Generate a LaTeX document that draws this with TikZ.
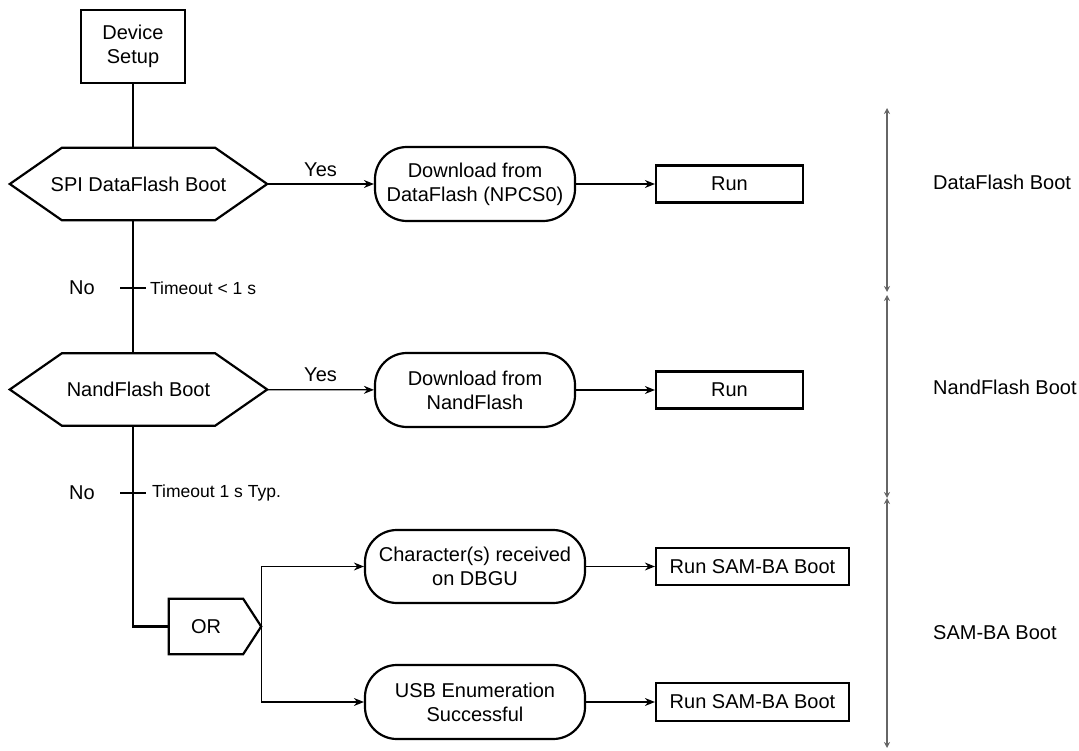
\documentclass[tikz,border=0pt]{standalone}
\usepackage{fontspec}
\setmainfont{Liberation Sans}
\usetikzlibrary{arrows.meta}

\begin{document}
\begin{tikzpicture}
  [x=1pt,y=-1pt,
   every node/.style={font=\fontsize{20}{24}\selectfont,align=center,inner sep=0pt},
   box/.style={draw,line width=2.2pt,minimum width=#1,minimum height=37pt},
   pill/.style={draw,line width=2.2pt,rounded corners=32pt,minimum width=#1,minimum height=74pt},
   hexa/.style={minimum width=257pt,minimum height=72pt},
   trunk/.style={line width=2.2pt},
   link/.style={line width=1.3pt,-{Stealth[length=10pt,width=8pt]}},
   span/.style={black!60,line width=1.4pt,{Stealth[length=6pt,width=6pt]}-{Stealth[length=6pt,width=6pt]}},
   small/.style={font=\fontsize{17.5}{20}\selectfont}]
  \useasboundingbox (0,0) rectangle (1079,751);

  % left column
  \node[box=104pt,minimum height=73pt] (dev) at (133,46.5) {Device\\Setup};
  \node[hexa] (spi) at (138.5,184) {SPI DataFlash Boot};
  \node[hexa] (nand) at (138.5,389.5) {NandFlash Boot};
  \node[minimum width=74pt,minimum height=55pt] (or) at (206,626.5) {OR};

  % middle and right
  \node[pill=200pt] (dl1) at (475,184) {Download from\\DataFlash (NPCS0)};
  \node[box=147pt] (run1) at (729.5,184) {Run};
  \node[pill=200pt] (dl2) at (475,390) {Download from\\NandFlash};
  \node[box=147pt] (run2) at (729.5,390) {Run};
  \node[pill=220pt,minimum height=73pt] (chr) at (475,566.5) {Character(s) received\\on DBGU};
  \node[pill=220pt] (usb) at (475,702) {USB Enumeration\\Successful};
  \node[box=193pt] (sam1) at (752.5,566.5) {Run SAM-BA Boot};
  \node[box=193pt,minimum height=38pt] (sam2) at (752.5,702) {Run SAM-BA Boot};

  \node[anchor=west] (lbdf) at (933,182) {DataFlash Boot};
  \node[anchor=west] (lbnf) at (933,387) {NandFlash Boot};
  \node[anchor=west] (lbsb) at (933,633) {SAM-BA Boot};

  % outlines
  \foreach \n in {spi,nand}
    \draw[trunk,line join=miter] (\n.west) -- ([xshift=52pt]\n.north west) -- ([xshift=-52pt]\n.north east)
      -- (\n.east) -- ([xshift=-52pt]\n.south east) -- ([xshift=52pt]\n.south west) -- cycle;
  \draw[trunk] (or.north west) -- (or.north east) -- ([xshift=18pt]or.east)
    -- (or.south east) -- (or.south west) -- cycle;

  % main line
  \draw[trunk] (dev.south) -- (spi.north -| dev.south);
  \draw[trunk] (spi.south -| dev.south) -- (nand.north -| dev.south);
  \draw[trunk] (nand.south -| dev.south) |- (or.west);

  % timeouts
  \coordinate (tk1) at (133,288);
  \coordinate (tk2) at (133,493);
  \foreach \t in {tk1,tk2}
    \draw[line width=1.8pt] ([xshift=-13pt]\t) -- ([xshift=13pt]\t);
  \node (no1) at (82,288) {No};
  \node[small,anchor=west] (to1) at (150,288) {Timeout < 1 s};
  \node (no2) at (82,493) {No};
  \node[small,anchor=west] (to2) at (152,493) {Timeout 1 s Typ.};

  % arrows
  \draw[link] (spi) -- node[above=7pt] {Yes} (dl1);
  \draw[link] (nand) -- node[above=7pt] {Yes} (dl2);
  \foreach \from/\to in {dl1/run1,dl2/run2,chr/sam1,usb/sam2}
    \draw[link] (\from) -- (\to);
  \coordinate (fork) at ([xshift=18pt]or.east);
  \draw[link] (fork) |- (chr.west);
  \draw[link] (fork) |- (usb.west);

  % ranges
  \coordinate (s0) at (887,108);
  \coordinate (s1) at (887,292);
  \coordinate (s2) at (887,295);
  \coordinate (s3) at (887,498);
  \coordinate (s4) at (887,748);
  \draw[span] (s0) -- (s1);
  \draw[span] (s2) -- (s3);
  \draw[span] (s3) -- (s4);
\end{tikzpicture}
\end{document}
